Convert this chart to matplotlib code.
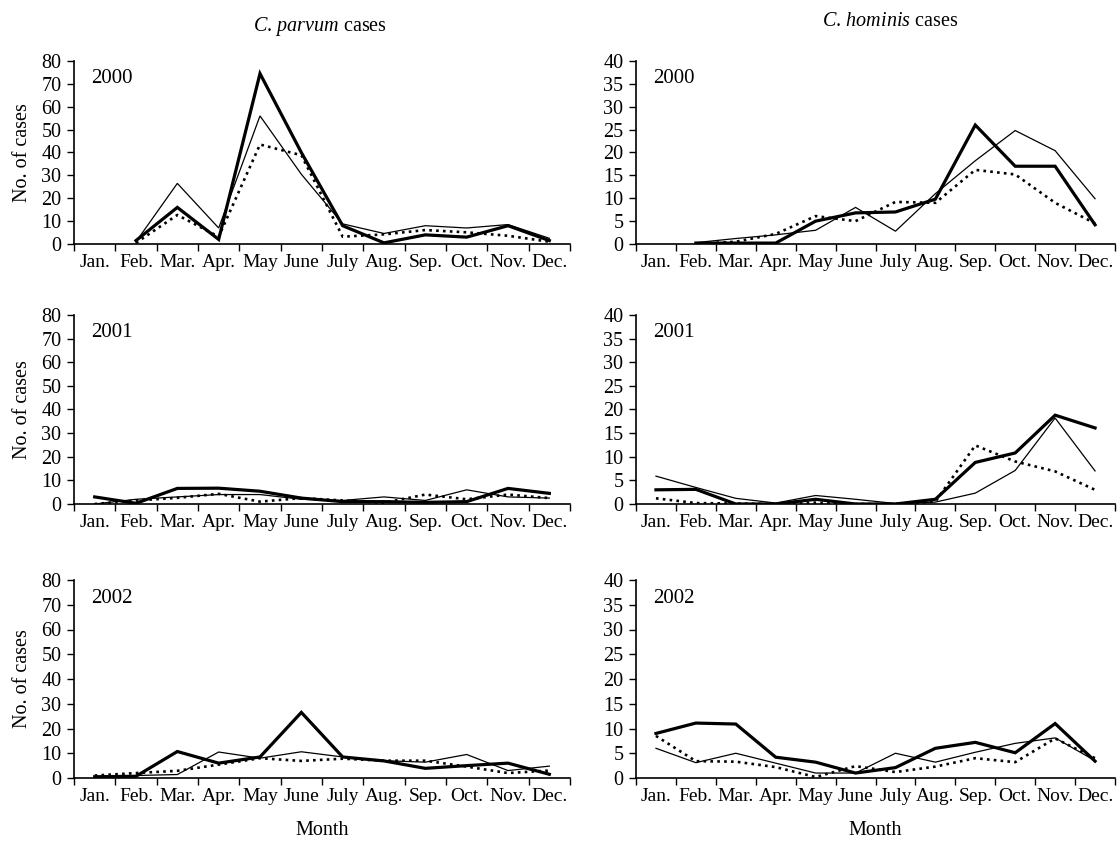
import matplotlib
matplotlib.use("Agg")
import matplotlib.pyplot as plt
import numpy as np

plt.rcParams['font.family'] = ['Liberation Serif', 'DejaVu Serif']
plt.rcParams['mathtext.fontset'] = 'custom'
plt.rcParams['mathtext.rm'] = 'Liberation Serif'
plt.rcParams['mathtext.it'] = 'Liberation Serif:italic'

months = ["Jan.", "Feb.", "Mar.", "Apr.", "May", "June", "July", "Aug.", "Sep.", "Oct.", "Nov.", "Dec."]
years = ["2000", "2001", "2002"]
nan = np.nan

# C. parvum
parvum_thick_2000 = [nan, 1.5, 16, 2, 74.5, 40, 8, 0.5, 4, 3, 8, 1.5]
parvum_thin_2000 = [nan, 1, 26.5, 7, 56, 30.5, 8.8, 4.6, 8, 7, 8.5, 2.5]
parvum_dot_2000 = [nan, 0.5, 12.7, 3.2, 43.5, 38.8, 3.2, 4.2, 6.1, 5.1, 3.6, 1]

parvum_thick_2001 = [3, 0.3, 6.6, 6.7, 5.4, 2.5, 1, 1, 0.7, 1, 6.6, 4.5]
parvum_thin_2001 = [0, 2, 3, 4, 4, 2, 1.5, 3, 1.5, 6, 3, 2.5]
parvum_dot_2001 = [0, 1.5, 2.6, 4.3, 1, 2.5, 1.5, 0.5, 4, 2, 4, 2.5]

parvum_thick_2002 = [0.5, 0.7, 10.7, 6, 8.5, 26.5, 8.5, 6.9, 3.9, 5, 6, 1.5]
parvum_thin_2002 = [0.3, 1, 1.4, 10.5, 8, 10.6, 8.5, 7, 6.4, 9.5, 3, 4.8]
parvum_dot_2002 = [1, 2, 2.9, 5.4, 8, 6.9, 7.8, 7, 7, 4.6, 2, 3]

# C. hominis
hominis_thick_2000 = [nan, 0.2, 0.2, 0.2, 5, 6.8, 7, 9.8, 26, 17, 17, 4.2]
hominis_thin_2000 = [nan, 0.3, 1.2, 2, 3, 8, 2.8, 11, 18.2, 24.8, 20.4, 9.9]
hominis_dot_2000 = [nan, 0, 0.5, 2.2, 6.1, 5, 9.2, 9, 16.2, 15.2, 9, 4.5]

hominis_thick_2001 = [3, 3.1, 0, 0, 1, 0, 0, 1, 8.8, 10.8, 18.8, 16.1]
hominis_thin_2001 = [5.9, 3.5, 1.2, 0.2, 1.8, 1, 0.1, 0.4, 2.3, 7.1, 18.2, 7]
hominis_dot_2001 = [1.2, 0.2, 0.1, 0, 0.3, 0, 0, 0.5, 12.4, 9, 6.9, 3]

hominis_thick_2002 = [9, 11.1, 10.9, 4.2, 3.2, 1, 2.1, 6, 7.2, 5.1, 11, 3.4]
hominis_thin_2002 = [6, 3.1, 5, 3, 1, 1, 5, 3.2, 5.2, 7, 8.1, 3.5]
hominis_dot_2002 = [8.5, 3.4, 3.3, 2.2, 0.2, 2.4, 1.2, 2.3, 4, 3.2, 8, 4]

parvum = [(parvum_thick_2000, parvum_thin_2000, parvum_dot_2000),
          (parvum_thick_2001, parvum_thin_2001, parvum_dot_2001),
          (parvum_thick_2002, parvum_thin_2002, parvum_dot_2002)]
hominis = [(hominis_thick_2000, hominis_thin_2000, hominis_dot_2000),
           (hominis_thick_2001, hominis_thin_2001, hominis_dot_2001),
           (hominis_thick_2002, hominis_thin_2002, hominis_dot_2002)]

W, H = 1119, 841
fig = plt.figure(figsize=(W / 100, H / 100), dpi=100)

rows_px = [(61, 244), (315, 504), (580, 778)]
cols_px = [(74, 570), (636, 1115)]

fs = 14
x = np.arange(12) + 0.5

for r, (ytop, ybot) in enumerate(rows_px):
    for c, (xl, xr) in enumerate(cols_px):
        ax = fig.add_axes([xl / W, 1 - ybot / H, (xr - xl) / W, (ybot - ytop) / H])
        data = parvum[r] if c == 0 else hominis[r]
        thick, thin, dot = data
        ax.plot(x, thin, color='black', lw=0.9, solid_joinstyle='miter')
        ax.plot(x, dot, color='black', lw=1.9, linestyle=(0, (1, 1.6)))
        ax.plot(x, thick, color='black', lw=2.3, solid_joinstyle='miter')
        ax.set_xlim(0, 12)
        if c == 0:
            ax.set_ylim(0, 80)
            ax.set_yticks(np.arange(0, 81, 10))
            ax.set_ylabel("No. of cases", fontsize=14.5, labelpad=7)
        else:
            ax.set_ylim(0, 40)
            ax.set_yticks(np.arange(0, 41, 5))
        ax.set_xticks(np.arange(0, 13))
        ax.set_xticklabels([])
        ax.set_xticks(x, minor=True)
        ax.set_xticklabels(months, minor=True, fontsize=fs)
        ax.tick_params(axis='x', which='minor', length=0, pad=7)
        ax.tick_params(axis='x', which='major', direction='out', length=5, width=1)
        ax.tick_params(axis='y', direction='out', length=5, width=1, labelsize=14.5, pad=4)
        for s in ['top', 'right']:
            ax.spines[s].set_visible(False)
        for s in ['left', 'bottom']:
            ax.spines[s].set_linewidth(1.2)
        ax.text(0.035, 0.905, years[r], transform=ax.transAxes, fontsize=15,
                ha='left', va='center')
        if r == 2:
            ax.set_xlabel("Month", fontsize=14.5, labelpad=12)

fig.text(320 / W, 1 - 27 / H, r"$\mathit{C.\,parvum}$ cases", ha='center', va='center', fontsize=14.5)
fig.text(890 / W, 1 - 21 / H, r"$\mathit{C.\,hominis}$ cases", ha='center', va='center', fontsize=14.5)

fig.savefig("out.png", dpi=100)
